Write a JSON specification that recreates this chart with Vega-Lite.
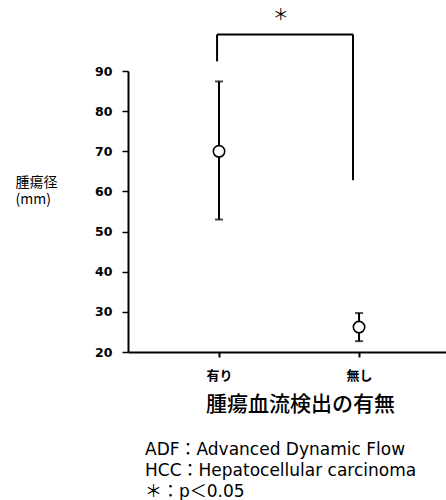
{
  "$schema": "https://vega.github.io/schema/vega-lite/v6.json",
  "width": 318,
  "height": 281,
  "autosize": {"type": "none"},
  "padding": {"left": 128, "top": 71, "right": 0, "bottom": 148},
  "background": "white",
  "config": {"view": {"stroke": null}, "font": "Noto Sans CJK JP"},
  "title": {
    "text": ["ADF：Advanced Dynamic Flow", "HCC：Hepatocellular carcinoma", "＊：p＜0.05"],
    "orient": "bottom",
    "anchor": "start",
    "frame": "group",
    "font": "DejaVu Sans, Noto Sans CJK JP",
    "fontSize": 17,
    "fontWeight": "normal",
    "color": "black",
    "lineHeight": 21,
    "baseline": "top",
    "dx": 17,
    "offset": 28
  },
  "datasets": {
    "groups": [
      {"flow": "有り", "pos": 1, "mean": 70, "lower": 53, "upper": 87.4},
      {"flow": "無し", "pos": 2, "mean": 26.2, "lower": 22.7, "upper": 29.7}
    ],
    "bracket": [
      {"pos": 0.986, "pos2": 0.986, "val": 92.4, "val2": 99.1},
      {"pos": 0.986, "pos2": 1.957, "val": 99.1, "val2": 99.1},
      {"pos": 1.957, "pos2": 1.957, "val": 99.1, "val2": 62.8}
    ],
    "sig": [
      {"pos": 1.44, "val": 104, "label": "＊"}
    ]
  },
  "layer": [
    {
      "data": {"name": "groups"},
      "mark": {"type": "rule", "strokeWidth": 2, "color": "black"},
      "encoding": {
        "x": {
          "field": "pos", "type": "quantitative",
          "scale": {"domain": [0.35, 2.621], "nice": false, "zero": false},
          "axis": {
            "values": [1, 2],
            "labelExpr": "datum.value == 1 ? '有り' : '無し'",
            "title": "腫瘍血流検出の有無",
            "grid": false,
            "domainColor": "black", "domainWidth": 2,
            "tickColor": "black", "tickWidth": 2, "tickSize": 5,
            "labelFont": "Noto Sans CJK JP", "labelFontSize": 13, "labelFontWeight": "bold", "labelColor": "black",
            "labelPadding": 12,
            "titleFont": "Noto Sans CJK JP", "titleFontSize": 21, "titleFontWeight": 500, "titleColor": "black",
            "titleX": 172, "titleY": 52, "titleAnchor": "middle", "titleAlign": "center", "titleBaseline": "middle"
          }
        },
        "y": {
          "field": "lower", "type": "quantitative",
          "scale": {"domain": [20, 90], "nice": false, "zero": false},
          "axis": {
            "values": [20, 30, 40, 50, 60, 70, 80, 90],
            "title": ["腫瘍径", "(mm)"],
            "grid": false,
            "domainColor": "black", "domainWidth": 2,
            "tickColor": "black", "tickWidth": 1.5, "tickSize": 6,
            "labelFont": "DejaVu Sans", "labelFontSize": 12.5, "labelFontWeight": "bold", "labelColor": "black",
            "labelPadding": 10,
            "titleFont": "Noto Sans CJK JP", "titleFontSize": 14, "titleFontWeight": "normal", "titleColor": "black",
            "titleAngle": 0, "titleAlign": "left", "titleBaseline": "alphabetic", "titleLineHeight": 17,
            "titleX": -113, "titleY": 115
          }
        },
        "y2": {"field": "upper"}
      }
    },
    {
      "data": {"name": "groups"},
      "mark": {"type": "tick", "orient": "horizontal", "size": 8, "thickness": 2, "color": "black"},
      "encoding": {
        "x": {"field": "pos", "type": "quantitative"},
        "y": {"field": "upper", "type": "quantitative"}
      }
    },
    {
      "data": {"name": "groups"},
      "mark": {"type": "tick", "orient": "horizontal", "size": 8, "thickness": 2, "color": "black"},
      "encoding": {
        "x": {"field": "pos", "type": "quantitative"},
        "y": {"field": "lower", "type": "quantitative"}
      }
    },
    {
      "data": {"name": "groups"},
      "mark": {"type": "point", "shape": "circle", "filled": false, "fill": "white", "fillOpacity": 1, "stroke": "black", "strokeWidth": 1.6, "size": 130, "opacity": 1},
      "encoding": {
        "x": {"field": "pos", "type": "quantitative"},
        "y": {"field": "mean", "type": "quantitative"}
      }
    },
    {
      "data": {"name": "bracket"},
      "mark": {"type": "rule", "strokeWidth": 2, "color": "black", "clip": false},
      "encoding": {
        "x": {"field": "pos", "type": "quantitative"},
        "x2": {"field": "pos2"},
        "y": {"field": "val", "type": "quantitative"},
        "y2": {"field": "val2"}
      }
    },
    {
      "data": {"name": "sig"},
      "mark": {"type": "text", "font": "Noto Sans CJK JP", "fontSize": 16, "color": "black", "baseline": "middle", "align": "center", "clip": false},
      "encoding": {
        "x": {"field": "pos", "type": "quantitative"},
        "y": {"field": "val", "type": "quantitative"},
        "text": {"field": "label"}
      }
    }
  ]
}
